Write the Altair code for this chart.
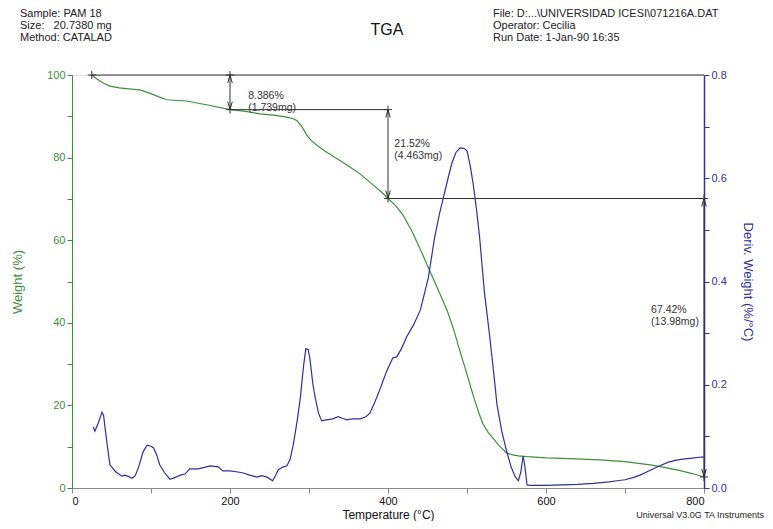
import altair as alt
import pandas as pd

# ---------------- data ----------------
temp_w = [25, 30, 40, 48, 60, 75, 86, 100, 110, 120, 145, 170, 200, 220, 238, 255, 272, 280,
          285, 291, 297, 303, 310, 320, 335, 348, 365, 381, 392, 400, 410, 419, 430, 440, 450,
          457, 466, 475, 483, 491, 500, 508, 515, 520, 527, 533, 541, 550, 558, 565, 576, 600,
          630, 668, 700, 732, 750, 770, 785, 800]
weight = [100, 99.2, 98.0, 97.3, 96.9, 96.6, 96.4, 95.5, 94.7, 94.0, 93.7, 92.8, 91.6, 91.2,
          90.6, 90.3, 89.8, 89.4, 88.9, 87.5, 85.5, 84.1, 83.0, 81.6, 79.8, 78.2, 76.0, 73.4,
          71.6, 70.1, 68.3, 66.1, 62.3, 58.2, 53.8, 50.8, 46.9, 42.9, 38.4, 33.2, 27.5, 22.3,
          18.2, 15.6, 13.4, 12.0, 10.2, 8.5, 8.0, 7.8, 7.6, 7.3, 7.1, 6.8, 6.4, 5.6, 5.0, 4.2,
          3.5, 2.67]

temp_d = [27, 29, 33, 38, 40, 44, 48, 55, 63, 67, 72, 76, 80, 84, 90, 95, 100, 103, 107, 111,
          117, 124, 130, 137, 143, 149, 160, 175, 185, 191, 200, 210, 217, 225, 234, 240, 247,
          254, 258, 261, 266, 272, 276, 280, 285, 289, 293, 296, 299, 301, 305, 308, 312, 316,
          322, 330, 337, 342, 348, 355, 365, 372, 377, 383, 390, 398, 406, 411, 417, 424, 432,
          441, 451, 459, 465, 470, 476, 481, 486, 491, 496, 500, 504, 508, 512, 516, 522, 529,
          534, 538, 544, 550, 556, 561, 565, 568, 571, 573, 576, 580, 584, 600, 620, 640, 660,
          680, 690, 700, 710, 719, 730, 744, 755, 765, 773, 785, 797, 800]
deriv = [0.118, 0.110, 0.125, 0.147, 0.140, 0.090, 0.045, 0.032, 0.023, 0.025, 0.022, 0.019,
         0.024, 0.039, 0.070, 0.083, 0.081, 0.078, 0.065, 0.045, 0.030, 0.017, 0.020, 0.025,
         0.027, 0.037, 0.037, 0.043, 0.041, 0.033, 0.033, 0.031, 0.029, 0.025, 0.021, 0.024,
         0.021, 0.014, 0.025, 0.035, 0.040, 0.043, 0.055, 0.083, 0.130, 0.174, 0.235, 0.270,
         0.268, 0.252, 0.200, 0.174, 0.145, 0.130, 0.132, 0.134, 0.138, 0.135, 0.132, 0.134,
         0.134, 0.138, 0.145, 0.165, 0.192, 0.225, 0.252, 0.254, 0.270, 0.294, 0.315, 0.345,
         0.407, 0.485, 0.530, 0.562, 0.600, 0.630, 0.650, 0.659, 0.658, 0.653, 0.625, 0.587,
         0.540, 0.485, 0.380, 0.290, 0.220, 0.161, 0.110, 0.072, 0.040, 0.022, 0.014, 0.030,
         0.062, 0.045, 0.006, 0.005, 0.005, 0.005, 0.006, 0.007, 0.009, 0.012, 0.014, 0.016,
         0.020, 0.025, 0.033, 0.043, 0.050, 0.054, 0.056, 0.058, 0.060, 0.060]

# step analysis annotations
steps_t = [200, 400, 800]
steps_from = [100.0, 91.614, 70.094]
steps_to = [91.614, 70.094, 2.674]
h_start = [25, 200, 400]
h_end = [800, 400, 800]
h_level = [100.0, 91.614, 70.094]
cross_t = [25, 200, 200, 400, 400, 800, 800]
cross_w = [100.0, 100.0, 91.614, 91.614, 70.094, 70.094, 2.674]
label_t = [223, 408, 733]
label_w = [95.0, 83.4, 43.1]
label_text = ["8.386%\n(1.739mg)", "21.52%\n(4.463mg)", "67.42%\n(13.98mg)"]

x_ticks = list(range(0, 801, 100))
w_ticks = list(range(0, 101, 10))
d_ticks = [round(i * 0.1, 1) for i in range(9)]

hdr_left = ["Sample: PAM 18", "Size:\u00a0\u00a0 20.7380 mg", "Method: CATALAD"]
hdr_right = ["File: D:...\\UNIVERSIDAD ICESI\\071216A.DAT", "Operator: Cecilia",
             "Run Date: 1-Jan-90 16:35"]
title_txt = "TGA"
footer_txt = "Universal V3.0G TA Instruments"

GREEN = "#3c8f3c"
BLUE = "#30309c"
DARK = "#333333"
FONT = "Liberation Sans"

# ---------------- scales / axes ----------------
xscale = alt.Scale(domain=[0, 800], nice=False, zero=False)
wscale = alt.Scale(domain=[0, 100], nice=False)
dscale = alt.Scale(domain=[0, 0.8], nice=False)

xaxis = alt.Axis(values=x_ticks, labelExpr="datum.value % 200 == 0 ? datum.label : ''",
                 title="Temperature (°C)", titleFontSize=12, titleFontWeight="normal",
                 titleColor="#111", labelColor="#111", labelFontSize=11, domainColor="#888",
                 tickColor="#888", tickSize=5, grid=False, labelOverlap=False,
                 titlePadding=3, labelPadding=2)
waxis = alt.Axis(values=w_ticks, labelExpr="datum.value % 20 == 0 ? datum.label : ''",
                 title="Weight (%)", titleFontSize=13, titleFontWeight="normal",
                 titleColor=GREEN, labelColor=GREEN, labelFontSize=11, domainColor=GREEN,
                 tickColor=GREEN, tickSize=5, grid=False, labelOverlap=False, titlePadding=22)
daxis = alt.Axis(values=d_ticks, format=".1f",
                 labelExpr="round(datum.value * 10) % 2 == 0 ? datum.label : ''",
                 orient="right", title="Deriv. Weight (%/°C)", titleFontSize=13,
                 titleFontWeight="normal", titleColor=BLUE, labelColor=BLUE, labelFontSize=11,
                 domainColor=BLUE, tickColor=BLUE, tickSize=5, grid=False, labelOverlap=False,
                 titlePadding=14, domainWidth=1.5)

X = lambda f="t": alt.X(f"{f}:Q", scale=xscale, axis=xaxis)
W = lambda f="w": alt.Y(f"{f}:Q", scale=wscale, axis=waxis)

df_w = pd.DataFrame({"t": temp_w, "w": weight})
df_d = pd.DataFrame({"t": temp_d, "d": deriv})

weight_line = alt.Chart(df_w).mark_line(color=GREEN, strokeWidth=1.2).encode(x=X(), y=W())

df_h = pd.DataFrame({"t": h_start, "t2": h_end, "w": h_level})
hlines = alt.Chart(df_h).mark_rule(color=DARK, strokeWidth=1).encode(
    x=X(), x2="t2:Q", y=W())
df_v = pd.DataFrame({"t": steps_t, "w": steps_from, "w2": steps_to})
vlines = alt.Chart(df_v).mark_rule(color=DARK, strokeWidth=1).encode(
    x=X(), y=W(), y2="w2:Q")
up_heads = alt.Chart(df_v).mark_point(
    shape="M -0.45 1.6 L 0 0 L 0.45 1.6", filled=False, stroke=DARK, strokeWidth=1,
    size=100, opacity=1).encode(x=X(), y=W())
down_heads = alt.Chart(df_v).mark_point(
    shape="M -0.45 -1.6 L 0 0 L 0.45 -1.6", filled=False, stroke=DARK, strokeWidth=1,
    size=100, opacity=1).encode(x=X(), y=W("w2"))
df_c = pd.DataFrame({"t": cross_t, "w": cross_w})
crosses = alt.Chart(df_c).mark_point(
    shape="M -1 0 L 1 0 M 0 -1 L 0 1", filled=False, stroke=DARK, strokeWidth=1,
    size=64, opacity=1).encode(x=X(), y=W())
df_l = pd.DataFrame({"t": label_t, "w": label_w, "txt": label_text})
labels = alt.Chart(df_l).mark_text(
    align="left", baseline="middle", lineBreak="\n", fontSize=10.5, font=FONT,
    color=DARK, lineHeight=12).encode(x=X(), y=W(), text="txt:N")


def text_mark(txt, x, y, size, align="left", baseline="middle", color="#222"):
    return alt.Chart(pd.DataFrame({"txt": [txt]})).mark_text(
        align=align, baseline=baseline, fontSize=size, font=FONT, color=color).encode(
        text="txt:N", x=alt.value(x), y=alt.value(y))


# plot origin is at page (72, 75)
texts = []
for i, line in enumerate(hdr_left):
    texts.append(text_mark(line, -52, -61 + 12 * i, 11))
for i, line in enumerate(hdr_right):
    texts.append(text_mark(line, 421, -61 + 12 * i, 11))
texts.append(text_mark(title_txt, 315, -45, 16, align="center", color="#111"))
texts.append(text_mark(footer_txt, 692, 440, 9, align="right"))

weight_group = alt.layer(weight_line, hlines, vlines, up_heads, down_heads, crosses, labels,
                         *texts)

deriv_line = alt.Chart(df_d).mark_line(color=BLUE, strokeWidth=1.2).encode(
    x=X(), y=alt.Y("d:Q", scale=dscale, axis=daxis))

chart = alt.layer(weight_group, deriv_line).resolve_scale(y="independent").properties(
    width=632, height=413,
    autosize=alt.AutoSizeParams(type="none"),
    padding={"left": 64, "top": 67, "right": 61, "bottom": 33},
).configure_view(stroke=None).configure(font=FONT)

chart.save("out.html", embed_options={"renderer": "svg", "actions": False})
